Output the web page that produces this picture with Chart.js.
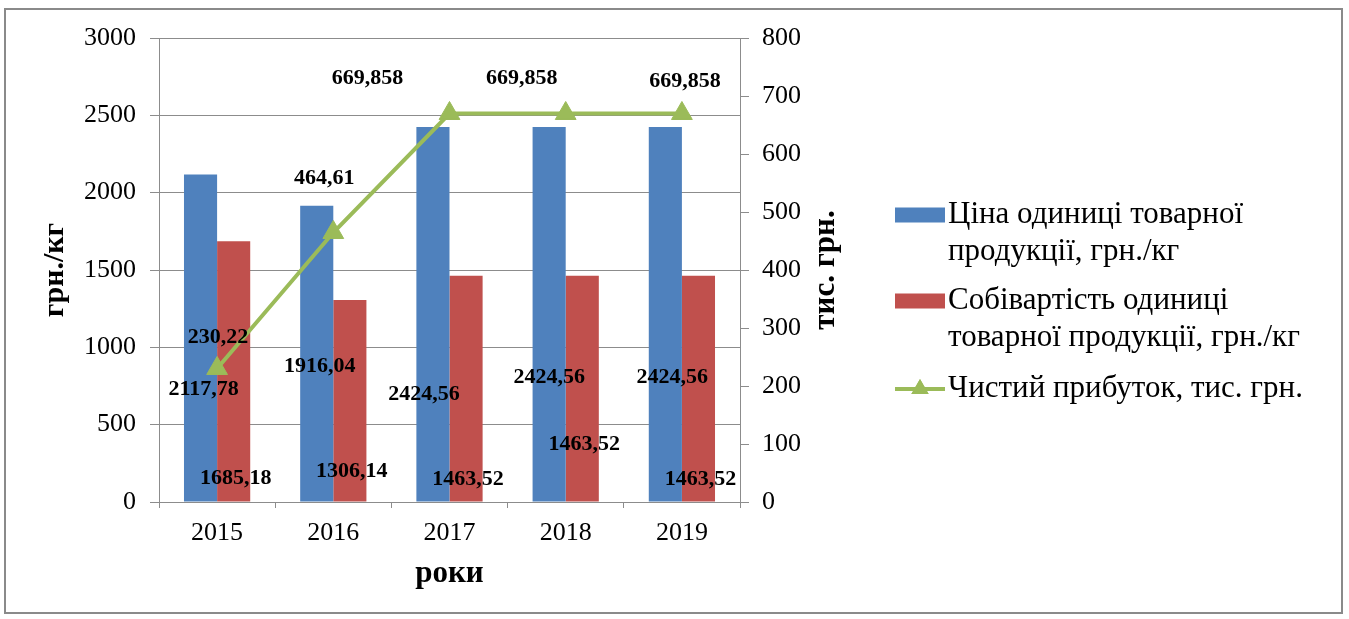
<!DOCTYPE html>
<html>
<head>
<meta charset="utf-8">
<script src="https://cdn.jsdelivr.net/npm/chart.js@4.4.0/dist/chart.umd.min.js"></script>
<style>
  html, body { margin: 0; padding: 0; background: #fff; }
</style>
</head>
<body>
<canvas id="chart" width="1349" height="619"></canvas>
<script>
var years = ['2015', '2016', '2017', '2018', '2019'];
var price = [2117.78, 1916.04, 2424.56, 2424.56, 2424.56];
var cost = [1685.18, 1306.14, 1463.52, 1463.52, 1463.52];
var profit = [230.22, 464.61, 669.858, 669.858, 669.858];

var priceName = ['Ціна одиниці товарної', 'продукції, грн./кг'];
var costName = ['Собівартість одиниці', 'товарної продукції, грн./кг'];
var profitName = ['Чистий прибуток, тис. грн.'];

// where the data labels sit (the source had them dragged around by hand)
var priceShift = [[3, -112], [3, -135], [-9, -107], [0, -124], [7, -124]];   // from bar base
var costShift = [[2, -23], [2, -30], [2, -22], [2, -57], [2, -22]];           // from bar base
var profitShift = [[1, -31], [-9, -54], [-82, -35], [-44, -35], [3, -32]];     // from point

var FONT = '"Liberation Serif", "Times New Roman", serif';
var BLUE = '#4F81BD', RED = '#C0504D', GREEN = '#9BBB59', GRID = '#8c8c8c';

function fmt(v) {
  return String(v).replace('.', ',');
}

var extras = {
  id: 'extras',
  beforeDraw: function(chart) {
    var ctx = chart.ctx;
    ctx.save();
    ctx.strokeStyle = '#8a8a8a';
    ctx.lineWidth = 2;
    ctx.strokeRect(5, 9, 1337, 604);
    ctx.restore();
  },
  afterDatasetsDraw: function(chart) {
    var ctx = chart.ctx;
    ctx.save();
    ctx.font = 'bold 22px ' + FONT;
    ctx.fillStyle = '#000';
    ctx.textAlign = 'center';
    ctx.textBaseline = 'middle';
    chart.getDatasetMeta(0).data.forEach(function(el, i) {
      ctx.fillText(fmt(price[i]), el.x + priceShift[i][0], el.base + priceShift[i][1]);
    });
    chart.getDatasetMeta(1).data.forEach(function(el, i) {
      ctx.fillText(fmt(cost[i]), el.x + costShift[i][0], el.base + costShift[i][1]);
    });
    chart.getDatasetMeta(2).data.forEach(function(el, i) {
      ctx.fillText(fmt(profit[i]), el.x + profitShift[i][0], el.y + profitShift[i][1]);
    });
    ctx.restore();
  },
  afterDraw: function(chart) {
    var ctx = chart.ctx;
    var area = chart.chartArea;
    ctx.save();
    // right axis title, reads bottom to top
    ctx.font = 'bold 31px ' + FONT;
    ctx.fillStyle = '#000';
    ctx.textAlign = 'center';
    ctx.textBaseline = 'middle';
    ctx.translate(826, (area.top + area.bottom) / 2);
    ctx.rotate(-Math.PI / 2);
    ctx.fillText('тис. грн.', 0, 0);
    ctx.restore();

    // legend
    ctx.save();
    ctx.font = '31px ' + FONT;
    ctx.textAlign = 'left';
    ctx.textBaseline = 'middle';
    var items = [
      {name: priceName, y: 215, kind: 'box', color: BLUE},
      {name: costName, y: 301, kind: 'box', color: RED},
      {name: profitName, y: 389, kind: 'line', color: GREEN}
    ];
    items.forEach(function(it) {
      if (it.kind === 'box') {
        ctx.fillStyle = it.color;
        ctx.fillRect(895, it.y - 7.5, 50, 15);
      } else {
        ctx.strokeStyle = it.color;
        ctx.lineWidth = 4;
        ctx.beginPath();
        ctx.moveTo(895, it.y);
        ctx.lineTo(945, it.y);
        ctx.stroke();
        ctx.fillStyle = it.color;
        Chart.helpers.drawPoint(ctx, {pointStyle: 'triangle', radius: 10, rotation: 0, borderWidth: 0}, 920, it.y);
        ctx.fill();
      }
      ctx.fillStyle = '#000';
      it.name.forEach(function(line, k) {
        ctx.fillText(line, 948, it.y + k * 37);
      });
    });
    ctx.restore();
  }
};

var tickFont = {family: FONT, size: 26};
var plain = function(v) { return String(v); };

new Chart(document.getElementById('chart'), {
  type: 'bar',
  data: {
    labels: years,
    datasets: [
      {
        label: priceName.join(' '),
        data: price,
        backgroundColor: BLUE,
        yAxisID: 'y',
        order: 1,
        categoryPercentage: 0.57,
        barPercentage: 1
      },
      {
        label: costName.join(' '),
        data: cost,
        backgroundColor: RED,
        yAxisID: 'y',
        order: 1,
        categoryPercentage: 0.57,
        barPercentage: 1
      },
      {
        type: 'line',
        label: profitName[0],
        data: profit,
        yAxisID: 'y1',
        order: 0,
        borderColor: GREEN,
        backgroundColor: GREEN,
        borderWidth: 4,
        tension: 0,
        pointStyle: 'triangle',
        pointRadius: 12,
        pointBackgroundColor: GREEN,
        pointBorderColor: GREEN,
        pointBorderWidth: 1
      }
    ]
  },
  options: {
    responsive: false,
    animation: false,
    layout: {padding: {left: 0, top: 38, right: 499, bottom: 17}},
    plugins: {
      legend: {display: false},
      tooltip: {enabled: false}
    },
    scales: {
      x: {
        offset: true,
        grid: {drawOnChartArea: false, drawTicks: true, tickLength: 6, color: GRID, offset: true},
        border: {color: GRID},
        ticks: {font: tickFont, color: '#000', padding: 10},
        title: {
          display: true, text: 'роки', color: '#000',
          font: {family: FONT, size: 31, weight: 'bold'},
          padding: {top: 0, bottom: 9}
        },
        afterFit: function(s) { s.height = 100; }
      },
      y: {
        position: 'left',
        min: 0, max: 3000,
        ticks: {stepSize: 500, font: tickFont, color: '#000', padding: 14, callback: plain},
        grid: {color: GRID, tickLength: 9},
        border: {color: GRID},
        title: {
          display: true, text: 'грн./кг', color: '#000',
          font: {family: FONT, size: 30, weight: 'bold'},
          padding: {top: 37, bottom: 0}
        },
        afterFit: function(s) { s.width = 159; }
      },
      y1: {
        position: 'right',
        min: 0, max: 800,
        ticks: {stepSize: 100, font: tickFont, color: '#000', padding: 13, callback: plain},
        grid: {drawOnChartArea: false, color: GRID, tickLength: 9},
        border: {color: GRID},
        afterFit: function(s) { s.width = 110; }
      }
    }
  },
  plugins: [extras]
});
</script>
</body>
</html>
